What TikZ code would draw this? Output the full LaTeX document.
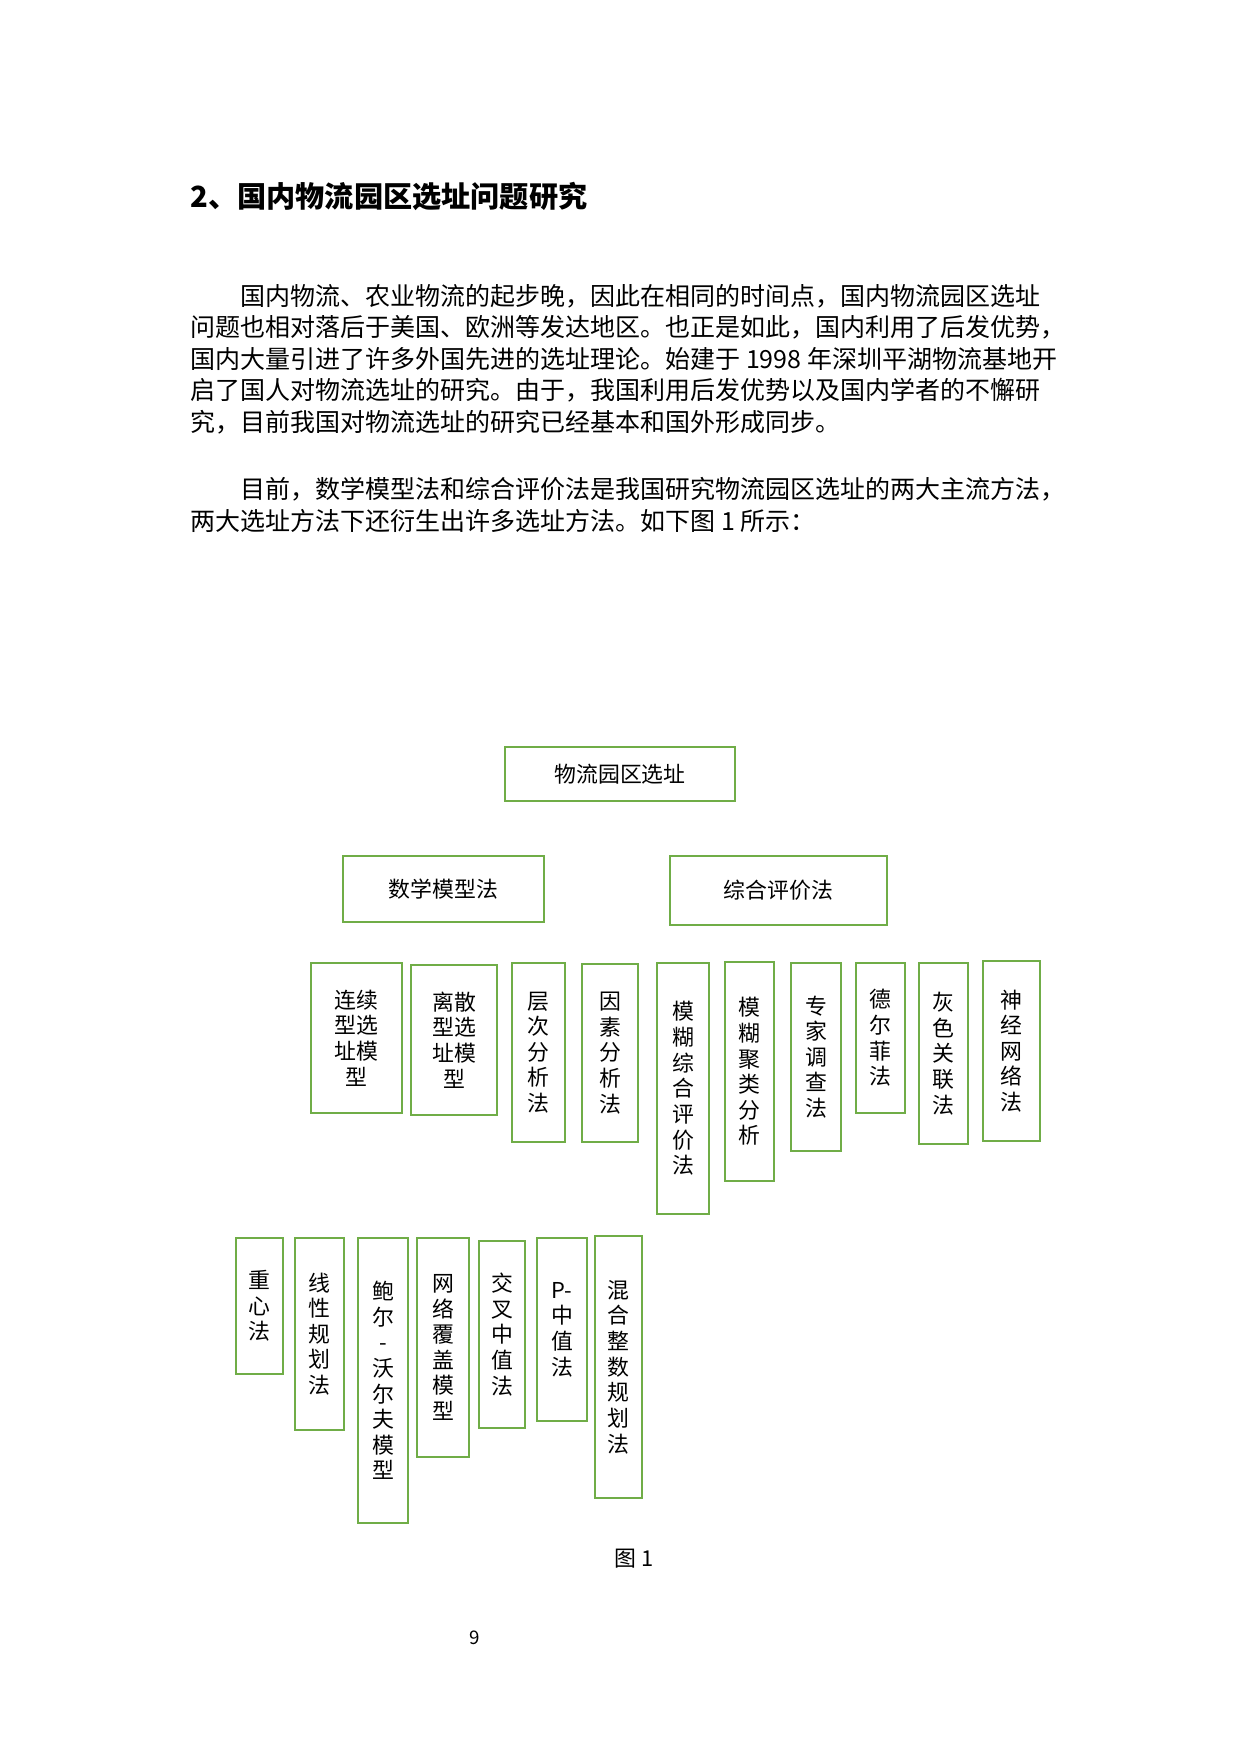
\documentclass[tikz,border=0pt]{standalone}
\usepackage{fontspec}
\setmainfont{Noto Sans CJK SC}
\usetikzlibrary{backgrounds}
\definecolor{gr}{HTML}{70AD47}
\definecolor{bl}{HTML}{5B9BD5}
\begin{document}
\begin{tikzpicture}[x=0.48pt,y=-0.48pt,
  bx/.style={draw=gr,line width=1.4pt,fill=white,inner sep=0pt,align=center,font=\fontsize{10.5}{12.3}\selectfont},
  ln/.style={draw=bl,line width=0.6pt},
  bt/.style={anchor=west,inner sep=0pt,font=\fontsize{12}{14}\selectfont}]
\useasboundingbox[fill=white] (0,0) rectangle (1240,1754);
\node[anchor=west,inner sep=0pt,font=\fontsize{14}{16}\bfseries] (h) at (190,196) {2、国内物流园区选址问题研究};
\node[bt] (p1) at (190,296) {\hspace{2em}国内物流、农业物流的起步晚，因此在相同的时间点，国内物流园区选址};
\node[bt] (p2) at (190,327) {问题也相对落后于美国、欧洲等发达地区。也正是如此，国内利用了后发优势，};
\node[bt] (p3) at (190,359) {国内大量引进了许多外国先进的选址理论。始建于 1998 年深圳平湖物流基地开};
\node[bt] (p4) at (190,390) {启了国人对物流选址的研究。由于，我国利用后发优势以及国内学者的不懈研};
\node[bt] (p5) at (190,422) {究，目前我国对物流选址的研究已经基本和国外形成同步。};
\node[bt] (q1) at (190,489) {\hspace{2em}目前，数学模型法和综合评价法是我国研究物流园区选址的两大主流方法，};
\node[bt] (q2) at (190,521) {两大选址方法下还衍生出许多选址方法。如下图 1 所示：};

\newcommand\bx[6]{\node[bx,minimum width=#4*0.48pt,minimum height=#5*0.48pt] (#1) at (#2,#3) {#6};}
\bx{top}{620}{774}{230}{54}{物流园区选址}
\bx{math}{443.5}{889}{201}{66}{数学模型法}
\bx{comp}{778.5}{890.5}{217}{69}{综合评价法}
\bx{lx}{356.5}{1038}{91}{150}{连续\\型选\\址模\\型}
\bx{ls}{454}{1040}{86}{150}{离散\\型选\\址模\\型}
\bx{cc}{538.5}{1052.5}{53}{179}{层\\次\\分\\析\\法}
\bx{ys}{610}{1053}{56}{178}{因\\素\\分\\析\\法}
\bx{mh}{683}{1088.5}{52}{251}{模\\糊\\综\\合\\评\\价\\法}
\bx{mj}{749.5}{1071.5}{49}{219}{模\\糊\\聚\\类\\分\\析}
\bx{zj}{816}{1057}{50}{188}{专\\家\\调\\查\\法}
\bx{de}{880.5}{1038}{49}{150}{德\\尔\\菲\\法}
\bx{hs}{943.5}{1053.5}{49}{181}{灰\\色\\关\\联\\法}
\bx{sj}{1011.5}{1051}{57}{180}{神\\经\\网\\络\\法}
\bx{zx}{259.5}{1306}{47}{136}{重\\心\\法}
\bx{xx}{319.5}{1334}{49}{192}{线\\性\\规\\划\\法}
\bx{be}{383}{1380.5}{50}{285}{鲍\\尔\\-\\沃\\尔\\夫\\模\\型}
\bx{wl}{443}{1347.5}{52}{219}{网\\络\\覆\\盖\\模\\型}
\bx{jc}{502}{1334.5}{46}{187}{交\\叉\\中\\值\\法}
\bx{pz}{562}{1329.5}{50}{183}{P-\\中\\值\\法}
\bx{hh}{618.5}{1367}{47}{262}{混\\合\\整\\数\\规\\划\\法}

\coordinate (e1) at (497,981);
\coordinate (e2) at (620,943);
\coordinate (e3) at (777,998);
\begin{scope}[on background layer]
\draw[ln] (top.south) -- (math.north);
\draw[ln] (top.south) -- (comp.north);
\draw[ln] (math.south) -- (lx.north);
\draw[ln] (math.south) -- (ls.north);
\foreach \n in {cc,ys,mh,mj,zj,de,hs,sj} \draw[ln] (comp.south) -- (\n.north);
\draw[ln] (e1) -- (e2) -- (e3);
\draw[ln] (lx.south) -- (zx.north);
\foreach \n in {xx,be,wl,jc,pz,hh} \draw[ln] (ls.south) -- (\n.north);
\end{scope}

\node[inner sep=0pt,font=\fontsize{10.5}{12}\selectfont] (cap) at (634,1559) {图 1};
\node[inner sep=0pt,font=\fontsize{9}{11}\selectfont] (pg) at (475,1638) {9};
\end{tikzpicture}
\end{document}
